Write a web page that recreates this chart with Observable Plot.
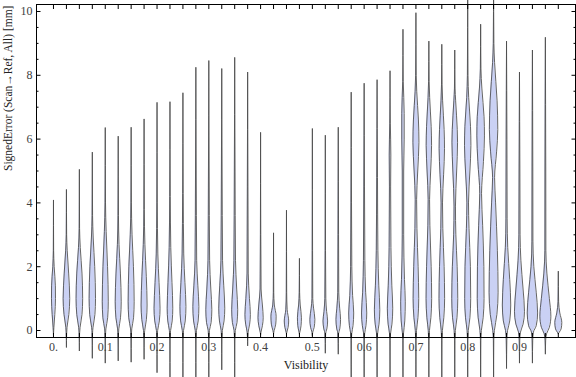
<!DOCTYPE html>
<html>
<head>
<meta charset="utf-8">
<script src="https://cdn.jsdelivr.net/npm/d3@7"></script>
<script src="https://cdn.jsdelivr.net/npm/@observablehq/plot@0.6"></script>
<style>
  html, body { margin: 0; padding: 0; background: white; }
</style>
</head>
<body>
<div id="chart"></div>
<script>
// Bin centres (Visibility)
const visibility = [0, 0.025, 0.05, 0.075, 0.1, 0.125, 0.15, 0.175, 0.2, 0.225,
  0.25, 0.275, 0.3, 0.325, 0.35, 0.375, 0.4, 0.425, 0.45, 0.475,
  0.5, 0.525, 0.55, 0.575, 0.6, 0.625, 0.65, 0.675, 0.7, 0.725,
  0.75, 0.775, 0.8, 0.825, 0.85, 0.875, 0.9, 0.925, 0.95, 0.975];

// Largest and smallest signed error per bin [mm]
const maxima = [4.08, 4.41, 5.04, 5.58, 6.35, 6.08, 6.36, 6.62, 7.14, 7.16,
  7.44, 8.24, 8.45, 8.2, 8.55, 8.09, 6.2, 3.05, 3.76, 2.25,
  6.32, 6.11, 6.36, 7.46, 7.74, 7.85, 8.13, 9.43, 9.95, 9.06,
  8.96, 8.78, 11, 9.59, 11, 9.06, 8.09, 8.78, 9.18, 1.85];
const minima = [-0.12, -0.52, -0.63, -0.86, -1.01, -0.94, -0.98, -0.89, -1.31, -1.8,
  -1.8, -1.8, -1.8, -1.22, -1.8, -0.47, -0.12, -0.1, -0.1, -0.1,
  -0.15, -0.7, -0.73, -1.8, -1.8, -1.8, -1.8, -1.8, -1.8, -1.8,
  -1.8, -1.8, -1.8, -1.8, -1.8, -1.18, -1.01, -1.01, -0.73, -0.1];

// Density profile per bin: [error value, relative density]
const profiles = [
  [[2.5,0.15],[2.0,0.7],[1.4,1.9],[1.0,2.0],[0.5,1.3],[0.1,0.4]],
  [[3.0,0.2],[2.5,0.8],[1.8,2.2],[1.0,3.3],[0.5,2.4],[0.1,0.6],[-0.1,0.2]],
  [[3.2,0.2],[2.6,0.9],[1.8,2.6],[1.0,3.3],[0.5,2.6],[0.1,0.7],[-0.1,0.2]],
  [[3.6,0.25],[2.9,0.9],[2.0,2.4],[1.0,3.2],[0.5,2.6],[0.1,0.7],[-0.1,0.2]],
  [[4.0,0.25],[3.1,0.9],[2.0,2.3],[0.9,3.0],[0.4,2.4],[0.05,0.6],[-0.15,0.2]],
  [[3.6,0.25],[2.7,0.8],[1.8,2.2],[0.9,3.0],[0.4,2.3],[0.05,0.6],[-0.15,0.2]],
  [[4.0,0.25],[3.0,0.9],[2.0,2.3],[0.9,3.0],[0.4,2.4],[0.05,0.6],[-0.15,0.2]],
  [[3.8,0.25],[2.7,0.8],[1.7,2.2],[0.8,3.0],[0.35,2.3],[0.0,0.6],[-0.15,0.2]],
  [[4.0,0.25],[2.4,0.8],[1.5,2.0],[0.7,3.0],[0.3,2.3],[0.0,0.6],[-0.2,0.2]],
  [[4.2,0.3],[2.6,0.8],[1.5,2.0],[0.7,2.8],[0.3,2.2],[0.0,0.6],[-0.2,0.2]],
  [[4.3,0.3],[2.4,0.8],[1.5,2.0],[0.75,3.0],[0.3,2.3],[0.0,0.6],[-0.2,0.2]],
  [[5.0,0.35],[2.2,0.8],[1.4,2.0],[0.75,3.0],[0.3,2.3],[0.0,0.6],[-0.2,0.25]],
  [[5.0,0.35],[2.2,0.8],[1.3,2.0],[0.65,3.0],[0.25,2.3],[0.0,0.6],[-0.2,0.25]],
  [[5.0,0.35],[2.2,0.8],[1.4,2.0],[0.7,3.0],[0.3,2.3],[0.0,0.6],[-0.2,0.25]],
  [[5.0,0.35],[2.2,0.8],[1.3,2.0],[0.65,3.0],[0.25,2.3],[0.0,0.6],[-0.2,0.25]],
  [[4.5,0.3],[1.8,0.6],[1.0,1.8],[0.5,2.7],[0.2,2.0],[-0.05,0.5],[-0.2,0.2]],
  [[3.0,0.2],[1.3,0.5],[0.8,1.8],[0.4,2.6],[0.15,1.8],[-0.05,0.4]],
  [[1.2,0.2],[0.8,0.8],[0.45,2.6],[0.2,2.2],[0.0,0.6]],
  [[1.2,0.2],[0.65,0.7],[0.3,2.2],[0.1,1.6],[-0.05,0.4]],
  [[1.2,0.2],[0.8,0.8],[0.4,2.0],[0.15,1.6],[-0.05,0.4]],
  [[2.5,0.2],[1.0,0.4],[0.7,1.2],[0.35,2.5],[0.1,1.8],[-0.05,0.4]],
  [[2.5,0.2],[1.0,0.5],[0.6,1.3],[0.3,2.3],[0.05,1.5],[-0.1,0.3]],
  [[3.0,0.3],[1.2,0.5],[0.7,1.4],[0.35,2.3],[0.05,1.5],[-0.1,0.3]],
  [[4.0,0.3],[2.0,0.6],[1.1,1.4],[0.55,2.5],[0.15,1.8],[-0.1,0.5],[-0.3,0.2]],
  [[4.5,0.35],[2.2,0.7],[1.2,1.5],[0.55,2.6],[0.15,1.8],[-0.1,0.5],[-0.3,0.2]],
  [[4.8,0.4],[2.5,0.8],[1.4,1.7],[0.65,2.7],[0.2,1.9],[-0.1,0.5],[-0.3,0.2]],
  [[6.5,0.3],[5.5,0.8],[4.5,0.6],[2.6,0.9],[1.4,1.8],[0.7,2.7],[0.2,1.9],[-0.1,0.5],[-0.3,0.2]],
  [[7.8,0.3],[6.8,1.2],[6.0,1.2],[5.0,0.7],[3.0,0.7],[1.6,1.5],[0.9,2.3],[0.3,1.8],[-0.1,0.5],[-0.3,0.2]],
  [[8.0,0.3],[7.5,0.8],[6.6,2.5],[5.9,3.0],[5.0,1.8],[4.1,0.7],[3.2,1.0],[2.0,2.2],[1.0,2.8],[0.4,2.0],[0.0,0.6],[-0.3,0.2]],
  [[7.8,0.3],[7.3,0.8],[6.4,2.3],[5.8,2.7],[5.0,1.8],[4.1,0.7],[3.3,1.0],[2.0,2.3],[1.0,2.8],[0.4,2.0],[0.0,0.6],[-0.3,0.2]],
  [[7.7,0.3],[7.2,0.8],[6.3,2.3],[5.7,2.7],[4.9,1.8],[4.0,0.7],[3.2,1.0],[2.0,2.3],[1.0,2.8],[0.4,2.0],[0.0,0.6],[-0.3,0.2]],
  [[7.6,0.3],[7.2,0.9],[6.3,2.5],[5.9,2.8],[5.0,1.9],[3.9,0.7],[3.0,1.1],[2.0,2.4],[1.0,3.0],[0.4,2.2],[0.0,0.6],[-0.3,0.2]],
  [[8.0,0.3],[7.3,1.0],[6.4,2.8],[5.8,3.2],[5.0,2.2],[4.0,0.8],[3.2,1.3],[2.0,2.7],[1.0,3.0],[0.4,2.2],[0.0,0.6],[-0.3,0.2]],
  [[8.2,0.3],[7.6,1.2],[6.7,3.4],[6.1,3.8],[5.3,2.8],[4.3,0.9],[3.3,2.0],[2.0,3.2],[1.0,3.4],[0.4,2.5],[0.0,0.7],[-0.3,0.2]],
  [[9.0,0.3],[8.4,1.0],[7.2,3.5],[6.3,4.2],[5.6,3.0],[4.8,1.0],[4.0,2.0],[2.5,3.8],[1.2,4.5],[0.5,3.3],[0.0,0.8],[-0.3,0.2]],
  [[6.0,0.4],[3.5,0.6],[2.6,1.2],[1.6,3.2],[0.8,4.2],[0.3,3.2],[0.0,1.0],[-0.3,0.3]],
  [[5.0,0.4],[3.0,0.6],[2.2,1.4],[1.3,3.6],[0.6,5.0],[0.2,3.6],[-0.05,1.0],[-0.3,0.3]],
  [[5.0,0.4],[2.8,0.5],[2.0,1.4],[1.2,3.8],[0.55,5.2],[0.15,3.8],[-0.05,1.0],[-0.3,0.3]],
  [[5.0,0.4],[2.5,0.5],[1.8,1.5],[1.0,4.0],[0.45,5.5],[0.1,4.0],[-0.1,1.2],[-0.3,0.3]],
  [[0.9,0.3],[0.55,1.5],[0.25,3.5],[0.05,2.8],[-0.05,1.0]]
];

const xLabelTicks = [0, 0.1, 0.2, 0.3, 0.4, 0.5, 0.6, 0.7, 0.8, 0.9];
const yMajor = [0, 2, 4, 6, 8, 10];
const yMinor = [0.5, 1, 1.5, 2.5, 3, 3.5, 4.5, 5, 5.5, 6.5, 7, 7.5, 8.5, 9, 9.5];

const W = 576, H = 377;
const mL = 36, mR = 1, mT = 4, mB = 40;
const xDomain = [-0.0328, 1.0082];
const yDomain = [-0.219, 10.219];
const densityScale = (xDomain[1] - xDomain[0]) / (W - mL - mR); // one density unit in x units

const rows = [];
visibility.forEach((vis, i) => {
  const pts = [[maxima[i], 0], ...profiles[i], [minima[i], 0]];
  pts.sort((a, b) => a[0] - b[0]);
  for (const [v, d] of pts) {
    rows.push({id: i, v, lo: vis - d * densityScale, hi: vis + d * densityScale});
  }
});

const tickColor = "#404040";
const blank = () => "";

const chart = Plot.plot({
  width: W,
  height: H,
  marginLeft: mL,
  marginRight: mR,
  marginTop: mT,
  marginBottom: mB,
  style: {fontFamily: "'Liberation Serif', 'DejaVu Serif', serif", fontSize: "12px", background: "white"},
  x: {domain: xDomain},
  y: {domain: yDomain},
  marks: [
    Plot.areaX(rows, {y: "v", x1: "lo", x2: "hi", z: "id", fill: "#cad1f4", curve: "monotone-y"}),
    Plot.line(rows, {x: "lo", y: "v", z: "id", stroke: "#4a4a4a", strokeWidth: 1, strokeOpacity: 0.85, curve: "monotone-y"}),
    Plot.line(rows, {x: "hi", y: "v", z: "id", stroke: "#4a4a4a", strokeWidth: 1, strokeOpacity: 0.85, curve: "monotone-y"}),
    Plot.frame({stroke: "black"}),
    Plot.axisY(yMajor, {anchor: "left", tickSize: 0, tickPadding: 4, fill: tickColor, label: null}),
    Plot.axisY(yMajor, {anchor: "left", tickSize: -4.5, tickFormat: blank, label: null, stroke: "black"}),
    Plot.axisY(yMinor, {anchor: "left", tickSize: -2.5, tickFormat: blank, label: null, stroke: "black"}),
    Plot.axisY(yMajor, {anchor: "right", tickSize: -4.5, tickFormat: blank, label: null, stroke: "black"}),
    Plot.axisY(yMinor, {anchor: "right", tickSize: -2.5, tickFormat: blank, label: null, stroke: "black"}),
    Plot.axisX(visibility, {anchor: "top", tickSize: -4, tickFormat: blank, label: null, stroke: "black"}),
    Plot.axisX(visibility, {anchor: "bottom", tickSize: -4, tickFormat: blank, label: null, stroke: "black"}),
    Plot.axisX(xLabelTicks, {anchor: "bottom", tickSize: 0, tickPadding: 5, fill: tickColor, label: null,
      tickFormat: d => d === 0 ? "0." : String(d)}),
    Plot.text(["SignedError (Scan\u2192Ref, All) [mm]"], {frameAnchor: "left", dx: -28, rotate: -90, text: d => d, fill: "#222", fontSize: 11.5}),
    Plot.text(["Visibility"], {frameAnchor: "bottom", dy: 31, text: d => d, fill: "#222", fontSize: 12})
  ]
});
document.getElementById("chart").appendChild(chart);
</script>
</body>
</html>
